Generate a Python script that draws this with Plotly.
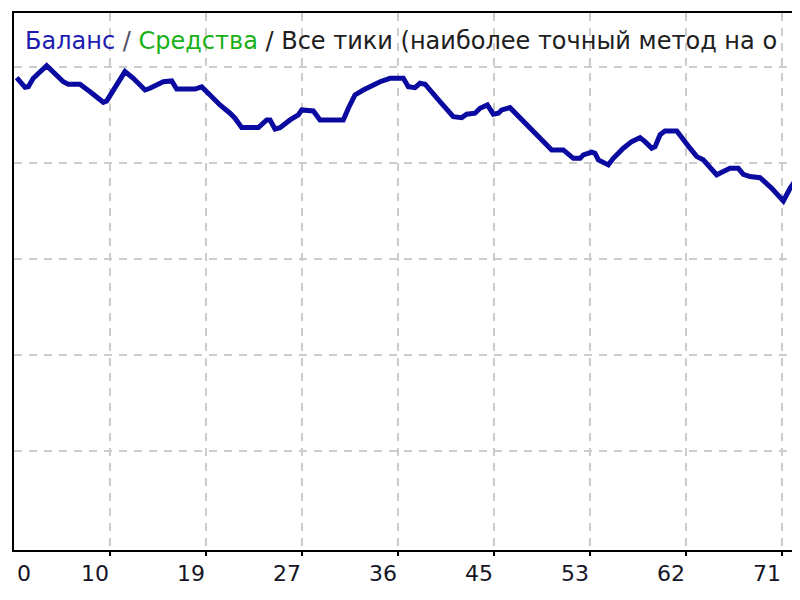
import plotly.graph_objects as go

# Balance curve (trade number, balance)
trade = [0.25, 1.02, 1.32, 1.78, 3.02, 4.56, 5.02, 6.10, 7.03, 8.26, 8.57, 9.49, 10.26, 11.03,
         12.11, 12.57, 13.19, 13.80, 14.58, 15.04, 16.73, 17.35, 17.96, 19.04, 19.97, 20.43,
         21.05, 22.59, 23.36, 23.67, 24.13, 24.59, 25.52, 26.28, 26.60, 27.67, 28.29, 30.44,
         30.91, 31.52, 32.29, 33.22, 33.84, 34.76, 35.99, 36.45, 37.07, 37.53, 38.00, 39.38,
         40.61, 41.39, 41.85, 42.62, 43.08, 43.76, 44.31, 44.77, 45.09, 45.85, 47.70, 49.71,
         50.78, 51.71, 52.33, 52.63, 53.41, 53.71, 54.02, 54.94, 55.40, 56.33, 57.10, 57.87,
         58.33, 58.95, 59.26, 59.72, 60.18, 61.27, 62.49, 63.12, 63.72, 64.96, 65.57, 66.19,
         66.96, 67.42, 68.04, 68.97, 70.05, 71.12, 71.74, 72.05, 73.50]
balance = [9944, 9894, 9897, 9941, 10007, 9923, 9910, 9910, 9871, 9816, 9823, 9906, 9976, 9941,
           9880, 9889, 9906, 9923, 9927, 9885, 9885, 9896, 9863, 9802, 9759, 9733,
           9684, 9684, 9724, 9724, 9677, 9684, 9724, 9750, 9776, 9771, 9724, 9724,
           9785, 9854, 9880, 9910, 9923, 9941, 9941, 9897, 9892, 9915, 9910, 9819,
           9741, 9736, 9754, 9759, 9785, 9802, 9754, 9759, 9776, 9788, 9681, 9568,
           9568, 9524, 9524, 9542, 9556, 9550, 9516, 9490, 9524, 9577, 9611, 9632,
           9611, 9577, 9585, 9646, 9667, 9667, 9577, 9533, 9516, 9438, 9455, 9472,
           9472, 9441, 9429, 9423, 9368, 9302, 9368, 9394, 9394]

x_grid = [8.875, 17.75, 26.625, 35.5, 44.375, 53.25, 62.125, 71.0]
x_labels = ["10", "19", "27", "36", "45", "53", "62", "71"]
y_grid = [8000, 8500, 9000, 9500, 10000]

fig = go.Figure()
fig.add_trace(go.Scatter(x=trade, y=balance, mode="lines",
                         line=dict(color="#0a0aa0", width=5), hoverinfo="skip"))

fig.update_layout(
    width=792, height=592,
    margin=dict(l=6, r=0, t=5, b=50),
    paper_bgcolor="white", plot_bgcolor="white",
    showlegend=False,
    xaxis=dict(range=[0, 72.66], tickvals=x_grid, showticklabels=False,
               showgrid=True, gridcolor="#cccccc", gridwidth=2, griddash="8px,7px",
               zeroline=False, showline=True, linecolor="black", linewidth=2, mirror=True,
               ticks="outside", ticklen=4, tickcolor="black", tickwidth=2),
    yaxis=dict(range=[7484, 10281], tickvals=y_grid, showticklabels=False,
               showgrid=True, gridcolor="#cccccc", gridwidth=2, griddash="8px,7px",
               zeroline=False, showline=True, linecolor="black", linewidth=2, ticks=""),
)

lab_font = dict(family="DejaVu Sans", size=22, color="#151525")
fig.add_annotation(x=0, y=0, xref="x", yref="paper", text="0", showarrow=False,
                   xanchor="left", yanchor="top", xshift=1, yshift=-9, font=lab_font)
for xv, t in zip(x_grid, x_labels):
    fig.add_annotation(x=xv, y=0, xref="x", yref="paper", text=t, showarrow=False,
                       xanchor="right", yanchor="top", xshift=1, yshift=-9, font=lab_font)

title = ('<span style="color:#1c1cb0">Баланс</span>'
         '<span style="color:#505068"> / </span>'
         '<span style="color:#18b018">Средства</span>'
         '<span style="color:#202020"> / Все тики (наиболее точный метод на о</span>')
fig.add_annotation(x=0, y=1, xref="paper", yref="paper", text=title, showarrow=False,
                   xanchor="left", yanchor="top", xshift=9, yshift=-12,
                   font=dict(family="DejaVu Sans", size=24, color="#202020"))

fig.write_html("out.html")
